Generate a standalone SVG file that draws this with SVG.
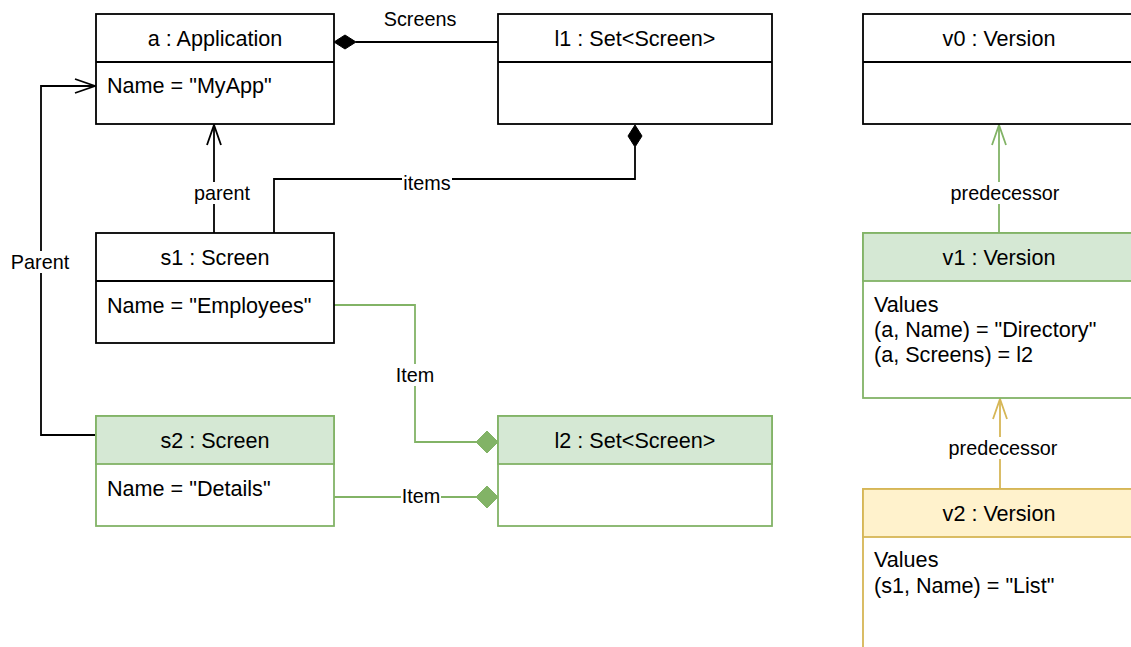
<svg xmlns="http://www.w3.org/2000/svg" width="1131" height="647" viewBox="0 0 1131 647">
<style>
text{font-family:"Liberation Sans",Arial,sans-serif;fill:#000}
.t{font-size:21.6px}
.m{text-anchor:middle}
.l{font-size:19.8px;text-anchor:middle}
.bw{fill:#fff;stroke:#000;stroke-width:1.8}
.bg{fill:#fff;stroke:#82b366;stroke-width:1.8}
.hg{fill:#d5e8d4;stroke:#82b366;stroke-width:1.8}
.by{fill:#fff;stroke:#d6b656;stroke-width:1.8}
.hy{fill:#fff2cc;stroke:#d6b656;stroke-width:1.8}
.ck{fill:none;stroke:#000;stroke-width:1.8}
.cg{fill:none;stroke:#82b366;stroke-width:1.8}
.cy{fill:none;stroke:#d6b656;stroke-width:1.8}
.lb{fill:#fff;stroke:none}
</style>
<rect width="1131" height="647" fill="#fff"/>
<g id="connectors">
  <!-- Screens -->
  <polyline class="ck" points="498,42 356,42"/>
  <polygon points="334,42 345,35 356,42 345,49" fill="#000" stroke="#000" stroke-width="1"/>
  <text class="l" x="420" y="26">Screens</text>
  <!-- parent -->
  <line class="ck" x1="214" y1="233" x2="214" y2="125"/>
  <polyline class="ck" points="207,145 214,125 221,145"/>
  <rect class="lb" x="190" y="182" width="64" height="22"/>
  <text class="l" x="222" y="200">parent</text>
  <!-- items -->
  <polyline class="ck" points="274,233 274,179 635,179 635,147"/>
  <polygon points="635,125 642,136 635,147 628,136" fill="#000" stroke="#000" stroke-width="1"/>
  <rect class="lb" x="402" y="172" width="50" height="22"/>
  <text class="l" x="427" y="190">items</text>
  <!-- Parent -->
  <polyline class="ck" points="96,435 41,435 41,86 95,86"/>
  <polyline class="ck" points="75,79 95,86 75,93"/>
  <rect class="lb" x="8" y="251" width="66" height="22"/>
  <text class="l" x="40" y="269">Parent</text>
  <!-- Item 1 -->
  <polyline class="cg" points="334,305 415,305 415,442 476,442"/>
  <polygon points="476,442 487,431 498,442 487,453" fill="#82b366" stroke="#82b366" stroke-width="1"/>
  <rect class="lb" x="394" y="364" width="42" height="22"/>
  <text class="l" x="415" y="382">Item</text>
  <!-- Item 2 -->
  <line class="cg" x1="334" y1="497" x2="476" y2="497"/>
  <polygon points="476,497 487,486 498,497 487,508" fill="#82b366" stroke="#82b366" stroke-width="1"/>
  <rect class="lb" x="401" y="485" width="40" height="22"/>
  <text class="l" x="421" y="503">Item</text>
  <!-- predecessor v1 -> v0 -->
  <line class="cg" x1="999" y1="233" x2="999" y2="125"/>
  <polyline class="cg" points="992,145 999,125 1006,145"/>
  <rect class="lb" x="948" y="182" width="114" height="22"/>
  <text class="l" x="1005" y="200">predecessor</text>
  <!-- predecessor v2 -> v1 -->
  <line class="cy" x1="1000" y1="489" x2="1000" y2="399"/>
  <polyline class="cy" points="993,419 1000,399 1007,419"/>
  <rect class="lb" x="946" y="437" width="114" height="22"/>
  <text class="l" x="1003" y="455">predecessor</text>
</g>
<g id="a">
  <rect class="bw" x="96" y="14" width="238" height="110"/>
  <line class="ck" x1="96" y1="62" x2="334" y2="62"/>
  <text class="t m" x="215" y="46">a : Application</text>
  <text class="t" x="107" y="93">Name = "MyApp"</text>
</g>
<g id="l1">
  <rect class="bw" x="498" y="14" width="274" height="110"/>
  <line class="ck" x1="498" y1="62" x2="772" y2="62"/>
  <text class="t m" x="635" y="46">l1 : Set&lt;Screen&gt;</text>
</g>
<g id="v0">
  <rect class="bw" x="863" y="14" width="280" height="110"/>
  <line class="ck" x1="863" y1="62" x2="1143" y2="62"/>
  <text class="t m" x="999" y="46">v0 : Version</text>
</g>
<g id="s1">
  <rect class="bw" x="96" y="233" width="238" height="110"/>
  <line class="ck" x1="96" y1="281" x2="334" y2="281"/>
  <text class="t m" x="215" y="265">s1 : Screen</text>
  <text class="t" x="107" y="313">Name = "Employees"</text>
</g>
<g id="s2">
  <rect class="bg" x="96" y="416" width="238" height="110"/>
  <rect class="hg" x="96" y="416" width="238" height="48"/>
  <text class="t m" x="215" y="448">s2 : Screen</text>
  <text class="t" x="107" y="496">Name = "Details"</text>
</g>
<g id="l2">
  <rect class="bg" x="498" y="416" width="274" height="110"/>
  <rect class="hg" x="498" y="416" width="274" height="48"/>
  <text class="t m" x="635" y="448">l2 : Set&lt;Screen&gt;</text>
</g>
<g id="v1">
  <rect class="bg" x="863" y="233" width="280" height="165"/>
  <rect class="hg" x="863" y="233" width="280" height="48"/>
  <text class="t m" x="999" y="265">v1 : Version</text>
  <text class="t" x="874" y="312">Values</text>
  <text class="t" x="874" y="337">(a, Name) = "Directory"</text>
  <text class="t" x="874" y="362">(a, Screens) = l2</text>
</g>
<g id="v2">
  <rect class="by" x="863" y="489" width="280" height="200"/>
  <rect class="hy" x="863" y="489" width="280" height="48"/>
  <text class="t m" x="999" y="521">v2 : Version</text>
  <text class="t" x="874" y="567">Values</text>
  <text class="t" x="874" y="593">(s1, Name) = "List"</text>
</g>
</svg>
